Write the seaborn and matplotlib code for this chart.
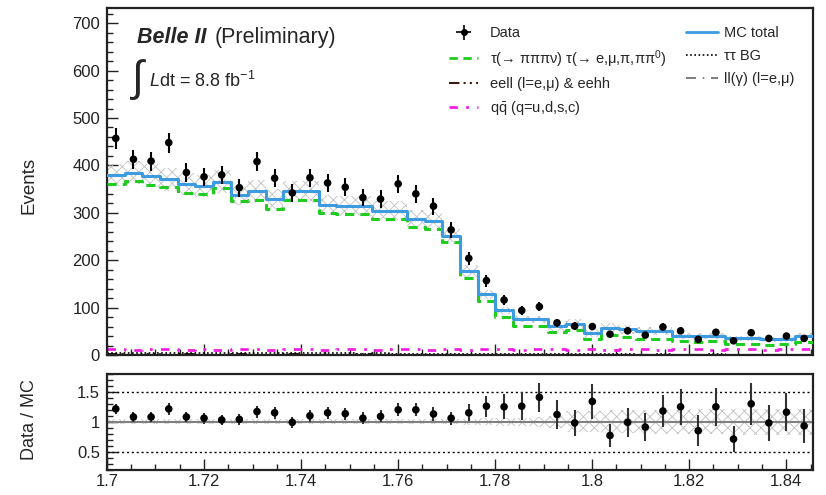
import numpy as np
import pandas as pd
import matplotlib
matplotlib.use("Agg")
import matplotlib.pyplot as plt
import seaborn as sns
from matplotlib.ticker import MultipleLocator, FuncFormatter
from matplotlib.lines import Line2D

# ---------------- data ----------------
x_min, x_max, n_bins = 1.7, 1.8455, 40
data_counts = [457, 413, 409, 448, 385, 376, 380, 353, 408, 373,
               342, 374, 363, 354, 332, 329, 361, 340, 314, 264,
               204, 157, 116, 94, 102, 68, 61, 60, 44, 51,
               42, 59, 51, 33, 48, 30, 47, 35, 40, 35]
mc_total = [380, 385, 378, 371, 360, 356, 366, 338, 347, 330,
            345, 345, 317, 314, 314, 304, 304, 286, 283, 251,
            177, 128, 94, 76, 75, 61, 65, 46, 58, 54,
            51, 51, 40, 40, 40, 35, 35, 33, 33, 40]
mc_unc = [24, 25, 24, 24, 23, 23, 24, 22, 22, 21,
          22, 22, 21, 21, 21, 20, 20, 19, 19, 17,
          13, 10, 8, 7, 7, 10, 11, 8, 10, 9,
          9, 9, 7, 7, 7, 6, 6, 6, 6, 7]
sig_3pi = [361, 368, 359, 355, 341, 340, 352, 324, 327, 309,
           327, 327, 300, 297, 297, 286, 286, 271, 266, 238,
           162, 114, 80, 62, 61, 49, 53, 33, 42, 37,
           34, 34, 30, 27, 30, 23, 23, 21, 23, 27]
tautau_bg = [5, 5, 4, 5, 4, 4, 5, 4, 4, 4, 4, 4, 4, 4, 3, 4, 3, 3, 3, 3,
             3, 3, 2, 2, 2, 2, 2, 2, 2, 2, 1, 2, 1, 1, 2, 1, 1, 1, 1, 1]
eell_bg = [2, 1, 2, 1, 2, 1, 1, 2, 1, 1, 2, 1, 1, 1, 2, 1, 1, 1, 1, 1,
           1, 1, 1, 1, 1, 1, 1, 1, 1, 1, 1, 1, 1, 1, 1, 1, 1, 1, 1, 1]
llg_bg = [0.5] * 40
qq_bg = [12, 11, 12, 12, 11, 12, 11, 12, 12, 11, 12, 12, 11, 12, 12, 11, 12, 12, 11, 12,
         11, 12, 12, 11, 12, 12, 11, 12, 11, 12, 12, 11, 12, 12, 11, 12, 12, 11, 12, 12]
ratio_vals = [1.215, 1.08, 1.08, 1.215, 1.08, 1.06, 1.03, 1.04, 1.17, 1.15,
              0.99, 1.10, 1.15, 1.135, 1.06, 1.09, 1.20, 1.20, 1.13, 1.06,
              1.15, 1.26, 1.25, 1.26, 1.41, 1.12, 0.98, 1.34, 0.77, 0.99,
              0.91, 1.18, 1.25, 0.85, 1.25, 0.71, 1.30, 0.98, 1.16, 0.93]
ratio_err = [0.09, 0.09, 0.09, 0.10, 0.09, 0.09, 0.09, 0.09, 0.10, 0.10,
             0.09, 0.10, 0.10, 0.10, 0.10, 0.10, 0.11, 0.11, 0.11, 0.11,
             0.14, 0.175, 0.21, 0.23, 0.24, 0.24, 0.22, 0.30, 0.20, 0.24,
             0.24, 0.27, 0.30, 0.26, 0.32, 0.22, 0.35, 0.30, 0.32, 0.28]
ratio_unc = [0.04] * 20 + [0.05, 0.06, 0.07, 0.07, 0.08, 0.10,
                           0.18, 0.18, 0.19, 0.19, 0.20, 0.20, 0.20,
                           0.21, 0.21, 0.22, 0.22, 0.22, 0.22, 0.22]
x_ticks = [1.7, 1.72, 1.74, 1.76, 1.78, 1.8, 1.82, 1.84]
x_tick_labels = ["1.7", "1.72", "1.74", "1.76", "1.78", "1.8", "1.82", "1.84"]

# ---------------- style ----------------
sns.set_theme(style="ticks")
plt.rcParams["font.family"] = ["Liberation Sans", "DejaVu Sans"]
plt.rcParams["mathtext.fontset"] = "custom"
plt.rcParams["mathtext.rm"] = "Liberation Sans"
plt.rcParams["mathtext.it"] = "Liberation Sans:italic"
plt.rcParams["hatch.linewidth"] = 0.6

edges = np.linspace(x_min, x_max, n_bins + 1)
centers = 0.5 * (edges[:-1] + edges[1:])
df = pd.DataFrame(dict(x=centers, data=data_counts, mc=mc_total, sig=sig_3pi,
                       tt=tautau_bg, eell=eell_bg, llg=llg_bg, qq=qq_bg,
                       ratio=ratio_vals, rerr=ratio_err))

fig = plt.figure(figsize=(8.26, 4.95), dpi=100)
ax = fig.add_axes([0.1295, 0.2828, 0.8547, 0.701])
axr = fig.add_axes([0.1295, 0.0515, 0.8547, 0.193])

c_mc = "#3d9be0"
c_sig = "#1fcc1f"
c_qq = "#f020e0"
c_eell = "#3a1c10"
c_llg = "#666666"

# uncertainty band (top)
xs = np.repeat(edges, 2)[1:-1]
mc_arr = np.array(mc_total, float)
unc_arr = np.array(mc_unc, float)
ax.fill_between(xs, np.repeat(mc_arr - unc_arr, 2), np.repeat(mc_arr + unc_arr, 2),
                facecolor="none", edgecolor="#c0c0c0", hatch="xxx", linewidth=0, zorder=1)

def step(col, color, ls, lw, z):
    sns.histplot(data=df, x="x", weights=col, bins=n_bins, binrange=(x_min, x_max),
                 element="step", fill=False,
                 color=color, linestyle=ls, linewidth=lw, ax=ax, zorder=z)

step("qq", c_qq, (0, (3, 3, 1, 3)), 2.0, 2)
step("llg", c_llg, (0, (6, 4)), 1.2, 2)
step("eell", c_eell, (0, (5, 2, 1, 2, 1, 2)), 1.5, 2)
step("tt", "black", (0, (1, 1.5)), 1.2, 2)
step("sig", c_sig, (0, (3, 2)), 2.2, 3)
step("mc", c_mc, "-", 2.2, 4)

ax.errorbar(centers, data_counts, yerr=np.sqrt(np.array(data_counts, float)),
            fmt="none", ecolor="black", elinewidth=1.5, zorder=5)
sns.scatterplot(data=df, x="x", y="data", color="black", s=30, edgecolor="none",
                ax=ax, zorder=6)

ax.set_xlim(x_min, x_max)
ax.set_ylim(0, 732)
ax.set_xlabel("")
ax.set_ylabel("Events", fontsize=13.5)
ax.yaxis.set_label_coords(-0.098, 0.49)
ax.yaxis.set_major_locator(MultipleLocator(100))
ax.yaxis.set_minor_locator(MultipleLocator(20))
ax.set_xticks(x_ticks)
ax.xaxis.set_minor_locator(MultipleLocator(0.005))
ax.tick_params(axis="x", labelbottom=False)

# ---------------- ratio panel ----------------
runc = np.array(ratio_unc)
axr.fill_between(xs, np.repeat(1 - runc, 2), np.repeat(1 + runc, 2),
                 facecolor="none", edgecolor="#c0c0c0", hatch="xxx", linewidth=0, zorder=1)
axr.axhline(1.0, color="#808080", lw=1.5, zorder=2)
axr.axhline(1.5, color="black", lw=1.0, ls=(0, (1.5, 2)), zorder=2)
axr.axhline(0.5, color="black", lw=1.0, ls=(0, (1.5, 2)), zorder=2)
axr.errorbar(centers, ratio_vals, yerr=ratio_err, fmt="none", ecolor="#333333",
             elinewidth=1.5, zorder=4)
sns.scatterplot(data=df, x="x", y="ratio", color="black", s=30, edgecolor="none",
                ax=axr, zorder=5)
axr.set_xlim(x_min, x_max)
axr.set_ylim(0.2, 1.8)
axr.set_xlabel("")
axr.set_ylabel("Data / MC", fontsize=13)
axr.yaxis.set_label_coords(-0.098, 0.52)
axr.set_yticks([0.5, 1.0, 1.5])
axr.yaxis.set_major_formatter(FuncFormatter(lambda v, p: f"{v:g}"))
axr.yaxis.set_minor_locator(MultipleLocator(0.1))
axr.set_xticks(x_ticks)
axr.set_xticklabels(x_tick_labels)
axr.xaxis.set_minor_locator(MultipleLocator(0.005))

for a in (ax, axr):
    a.tick_params(which="both", direction="in", top=False, right=False, labelsize=12,
                  colors="#222222", width=1.0)
    a.tick_params(which="major", length=8, pad=5)
    a.tick_params(which="minor", length=4)
    for s in a.spines.values():
        s.set_linewidth(1.6)
        s.set_color("#222222")
axr.tick_params(axis="x", which="major", pad=3)

# ---------------- texts ----------------
ax.text(0.042, 0.915, "Belle II", transform=ax.transAxes, fontsize=15.5,
        fontweight="bold", style="italic", va="center", ha="left")
ax.text(0.153, 0.915, "(Preliminary)", transform=ax.transAxes, fontsize=15.5,
        va="center", ha="left")
ax.text(0.034, 0.795, "\u222b", transform=ax.transAxes, fontsize=31,
        va="center", ha="left")
ax.text(0.0595, 0.79, r"$L$dt = 8.8 fb$^{\mathregular{-1}}$", transform=ax.transAxes,
        fontsize=13, va="center", ha="left")

# ---------------- legends ----------------
h_data = ax.errorbar([np.nan], [np.nan], xerr=[1], yerr=[1], fmt="o", color="black",
                     ms=4, elinewidth=1.2)
h_sig = Line2D([], [], color=c_sig, ls=(0, (3, 2)), lw=2.0)
h_eell = Line2D([], [], color=c_eell, ls=(0, (5, 2, 1, 2, 1, 2)), lw=1.5)
h_qq = Line2D([], [], color=c_qq, ls=(0, (3, 3, 1, 3)), lw=2.0)
h_mc = Line2D([], [], color=c_mc, lw=2.0)
h_tt = Line2D([], [], color="black", ls=(0, (1, 1.5)), lw=1.2)
h_llg = Line2D([], [], color=c_llg, ls=(0, (6, 4, 1, 4)), lw=1.2)

leg1 = ax.legend([h_data, h_sig, h_eell, h_qq],
                 ["Data", "\u03c4(\u2192 \u03c0\u03c0\u03c0\u03bd) \u03c4(\u2192 e,\u03bc,\u03c0,\u03c0\u03c0$^0$)",
                  "eell (l=e,\u03bc) & eehh", r"$\mathrm{q\bar{q}}$ (q=u,d,s,c)"],
                 loc="upper left", bbox_to_anchor=(0.466, 0.985), frameon=False,
                 fontsize=10.5, handlelength=2.0, labelspacing=0.52, handletextpad=0.8)
ax.add_artist(leg1)
ax.legend([h_mc, h_tt, h_llg],
          ["MC total", "\u03c4\u03c4 BG", "ll(\u03b3) (l=e,\u03bc)"],
          loc="upper left", bbox_to_anchor=(0.802, 0.985), frameon=False,
          fontsize=10.5, handlelength=2.2, labelspacing=0.62, handletextpad=0.4)

fig.savefig("out.png", dpi=100)
